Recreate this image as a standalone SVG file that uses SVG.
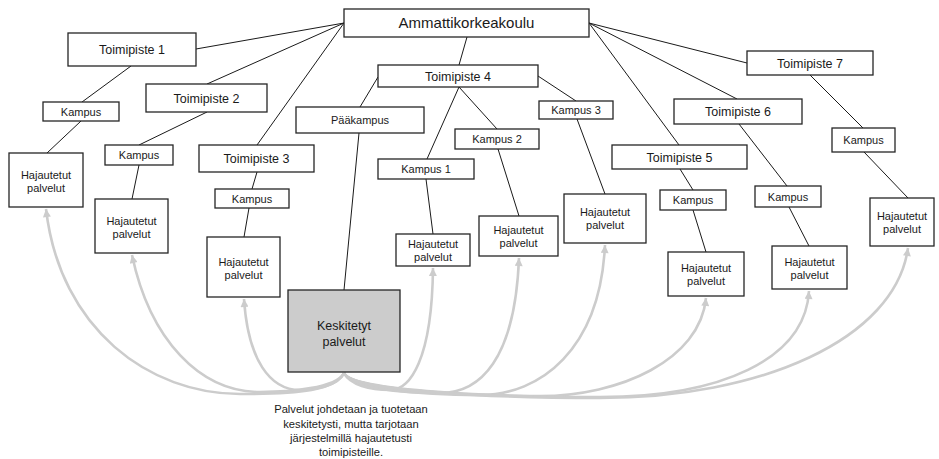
<svg xmlns="http://www.w3.org/2000/svg" width="939" height="459" viewBox="0 0 939 459">
  <style>
    .box { fill: #ffffff; stroke: #262626; stroke-width: 1.3; }
    .central { fill: #cccccc; stroke: #262626; stroke-width: 1.3; }
    .link { stroke: #1a1a1a; stroke-width: 1; fill: none; }
    .flow { stroke: #cccccc; stroke-width: 2.6; fill: none; marker-end: url(#head); }
    text { font-family: "Liberation Sans", Arial, sans-serif; fill: #1a1a1a; text-anchor: middle; }
    .big { font-size: 15px; }
    .mid { font-size: 12.5px; }
    .sm { font-size: 11px; }
    .note { font-size: 11.2px; }
  </style>
  <defs>
    <marker id="head" viewBox="0 0 10 10" refX="10" refY="5" markerWidth="9" markerHeight="8" markerUnits="userSpaceOnUse" orient="auto">
      <path d="M0,0 L10,5 L0,10 Z" fill="#cccccc"/>
    </marker>
  </defs>

  <!-- distribution arrows from the central services -->
  <g id="flows">
    <path class="flow" d="M344,373 C336,390 300,394 240,394 C150,394 60,330 46,209"/>
    <path class="flow" d="M344,373 C336,388 290,392 260,392 C200,392 150,340 132,255"/>
    <path class="flow" d="M344,373 C338,386 315,390 300,390 C270,390 248,360 244,299"/>
    <path class="flow" d="M344,373 C350,385 370,390 390,390 C410,390 432,360 433,268"/>
    <path class="flow" d="M344,373 C352,388 400,393 440,393 C480,393 515,360 519,258"/>
    <path class="flow" d="M344,373 C352,389 420,395 480,395 C540,395 600,350 605,245"/>
    <path class="flow" d="M344,373 C352,390 470,396 540,396 C620,396 700,360 706,298"/>
    <path class="flow" d="M344,373 C352,391 500,397 600,397 C720,397 805,360 809,291"/>
    <path class="flow" d="M344,373 C352,392 500,398 600,398 C760,398 895,340 908,248"/>
  </g>

  <!-- organisation links -->
  <g id="connectors">
    <line class="link" x1="344" y1="23" x2="196" y2="49"/>
    <line class="link" x1="344" y1="23" x2="207" y2="84"/>
    <line class="link" x1="344" y1="23" x2="257" y2="145"/>
    <line class="link" x1="467" y1="37" x2="459" y2="65"/>
    <line class="link" x1="589" y1="23" x2="747" y2="63"/>
    <line class="link" x1="589" y1="23" x2="737" y2="99"/>
    <line class="link" x1="589" y1="23" x2="679" y2="145"/>
    <line class="link" x1="131" y1="66" x2="82" y2="102"/>
    <line class="link" x1="81" y1="121" x2="47" y2="153"/>
    <line class="link" x1="207" y1="112" x2="139" y2="145"/>
    <line class="link" x1="139" y1="165" x2="132" y2="199"/>
    <line class="link" x1="257" y1="172" x2="252" y2="189"/>
    <line class="link" x1="249" y1="208" x2="244" y2="237"/>
    <line class="link" x1="378" y1="77" x2="360" y2="107"/>
    <line class="link" x1="359" y1="133" x2="344" y2="290"/>
    <line class="link" x1="459" y1="87" x2="427" y2="159"/>
    <line class="link" x1="459" y1="87" x2="497" y2="129"/>
    <line class="link" x1="538" y1="76" x2="576" y2="101"/>
    <line class="link" x1="426" y1="179" x2="433" y2="234"/>
    <line class="link" x1="498" y1="149" x2="519" y2="216"/>
    <line class="link" x1="577" y1="119" x2="605" y2="194"/>
    <line class="link" x1="680" y1="169" x2="693" y2="190"/>
    <line class="link" x1="693" y1="210" x2="706" y2="252"/>
    <line class="link" x1="739" y1="124" x2="787" y2="186"/>
    <line class="link" x1="789" y1="207" x2="809" y2="246"/>
    <line class="link" x1="810" y1="75" x2="863" y2="128"/>
    <line class="link" x1="864" y1="152" x2="908" y2="198"/>
  </g>

  <g id="amk"><rect class="box" x="344" y="9" width="245" height="28"/><text class="big" x="466.5" y="28">Ammattikorkeakoulu</text></g>

  <g id="toimipiste1"><rect class="box" x="68" y="33" width="128" height="33"/><text class="mid" x="132" y="54">Toimipiste 1</text></g>
  <g id="toimipiste2"><rect class="box" x="146" y="84" width="121" height="28"/><text class="mid" x="206.5" y="102.5">Toimipiste 2</text></g>
  <g id="toimipiste3"><rect class="box" x="199" y="145" width="115" height="27"/><text class="mid" x="256.5" y="163">Toimipiste 3</text></g>
  <g id="toimipiste4"><rect class="box" x="378" y="65" width="160" height="22"/><text class="mid" x="458" y="80.5">Toimipiste 4</text></g>
  <g id="toimipiste5"><rect class="box" x="612" y="145" width="135" height="24"/><text class="mid" x="679.5" y="161.5">Toimipiste 5</text></g>
  <g id="toimipiste6"><rect class="box" x="674" y="99" width="128" height="25"/><text class="mid" x="738" y="116">Toimipiste 6</text></g>
  <g id="toimipiste7"><rect class="box" x="747" y="51" width="126" height="24"/><text class="mid" x="810" y="67.5">Toimipiste 7</text></g>

  <g id="kampus-t1"><rect class="box" x="43" y="102" width="76" height="19"/><text class="sm" x="81" y="115.5">Kampus</text></g>
  <g id="kampus-t2"><rect class="box" x="105" y="145" width="68" height="20"/><text class="sm" x="139" y="159">Kampus</text></g>
  <g id="kampus-t3"><rect class="box" x="215" y="189" width="74" height="19"/><text class="sm" x="252" y="202.5">Kampus</text></g>
  <g id="paakampus"><rect class="box" x="296" y="107" width="128" height="26"/><text class="sm" x="360" y="124">Pääkampus</text></g>
  <g id="kampus1"><rect class="box" x="378" y="159" width="96" height="20"/><text class="sm" x="426" y="173">Kampus 1</text></g>
  <g id="kampus2"><rect class="box" x="455" y="129" width="84" height="20"/><text class="sm" x="497" y="143">Kampus 2</text></g>
  <g id="kampus3"><rect class="box" x="539" y="101" width="74" height="18"/><text class="sm" x="576" y="114">Kampus 3</text></g>
  <g id="kampus-t5"><rect class="box" x="660" y="190" width="66" height="20"/><text class="sm" x="693" y="204">Kampus</text></g>
  <g id="kampus-t6"><rect class="box" x="755" y="186" width="66" height="21"/><text class="sm" x="788" y="200.5">Kampus</text></g>
  <g id="kampus-t7"><rect class="box" x="832" y="128" width="63" height="24"/><text class="sm" x="863.5" y="144">Kampus</text></g>

  <g id="hajautetut-t1"><rect class="box" x="9" y="153" width="74" height="54"/><text class="sm" x="46" y="178.5">Hajautetut</text><text class="sm" x="46" y="191.5">palvelut</text></g>
  <g id="hajautetut-t2"><rect class="box" x="95" y="199" width="73" height="54"/><text class="sm" x="131.5" y="224.5">Hajautetut</text><text class="sm" x="131.5" y="237.5">palvelut</text></g>
  <g id="hajautetut-t3"><rect class="box" x="207" y="237" width="73" height="60"/><text class="sm" x="243.5" y="265.5">Hajautetut</text><text class="sm" x="243.5" y="278.5">palvelut</text></g>
  <g id="hajautetut-k1"><rect class="box" x="396" y="234" width="74" height="32"/><text class="sm" x="433" y="248">Hajautetut</text><text class="sm" x="433" y="261">palvelut</text></g>
  <g id="hajautetut-k2"><rect class="box" x="479" y="216" width="79" height="40"/><text class="sm" x="518.5" y="234">Hajautetut</text><text class="sm" x="518.5" y="247">palvelut</text></g>
  <g id="hajautetut-k3"><rect class="box" x="564" y="194" width="82" height="49"/><text class="sm" x="605" y="216">Hajautetut</text><text class="sm" x="605" y="229">palvelut</text></g>
  <g id="hajautetut-t5"><rect class="box" x="668" y="252" width="76" height="44"/><text class="sm" x="706" y="272">Hajautetut</text><text class="sm" x="706" y="285">palvelut</text></g>
  <g id="hajautetut-t6"><rect class="box" x="772" y="246" width="75" height="43"/><text class="sm" x="809.5" y="265.5">Hajautetut</text><text class="sm" x="809.5" y="278.5">palvelut</text></g>
  <g id="hajautetut-t7"><rect class="box" x="870" y="198" width="64" height="48"/><text class="sm" x="902" y="219.5">Hajautetut</text><text class="sm" x="902" y="232.5">palvelut</text></g>

  <g id="keskitetyt"><rect class="central" x="288" y="290" width="112" height="82"/><text class="mid" x="344" y="329.5">Keskitetyt</text><text class="mid" x="344" y="345.5">palvelut</text></g>

  <g id="huomautus">
    <text class="note" x="351" y="413">Palvelut johdetaan ja tuotetaan</text>
    <text class="note" x="351" y="427.5">keskitetysti, mutta tarjotaan</text>
    <text class="note" x="351" y="442">järjestelmillä hajautetusti</text>
    <text class="note" x="351" y="456">toimipisteille.</text>
  </g>
</svg>
